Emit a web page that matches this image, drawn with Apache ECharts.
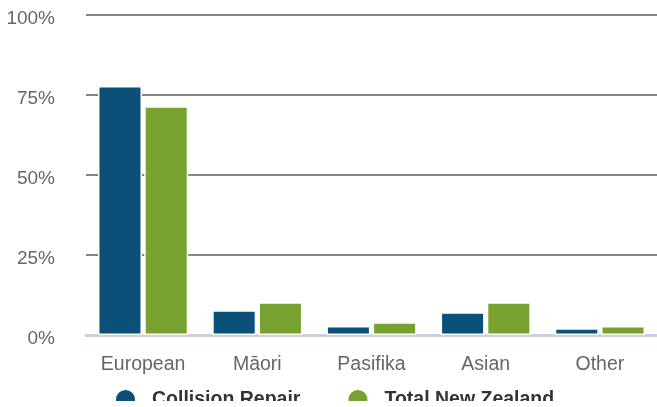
<!DOCTYPE html>
<html><head><meta charset="utf-8">
<script src="https://cdn.jsdelivr.net/npm/echarts@6/dist/echarts.min.js"></script>
<style>html,body{margin:0;padding:0;background:#fff}#wrap{width:657px;height:407px;overflow:hidden}#c{width:657px;height:401px}</style>
</head><body><div id="wrap"><div id="c"></div></div>
<script>
const categories = ['European', 'Māori', 'Pasifika', 'Asian', 'Other'];
const collisionRepair = [77.8, 7.7, 2.8, 7.1, 2.1];
const totalNZ = [71.5, 10.2, 4.0, 10.2, 2.8];
const seriesNames = ['Collision Repair', 'Total New Zealand'];
const yTicks = [0, 25, 50, 75, 100];

const chart = echarts.init(document.getElementById('c'), null, {renderer: 'canvas'});
const font = 'Liberation Sans, Arial, sans-serif';
chart.setOption({
  animation: false,
  grid: {left: 86, right: 0, top: 15, bottom: 66, containLabel: false},
  legend: {
    left: 114, top: 388, padding: 0,
    itemWidth: 21, itemHeight: 21, itemGap: 46, icon: 'circle',
    textStyle: {fontFamily: font, fontSize: 19.5, fontWeight: 'bold', color: '#333', padding: [1, 0, 0, 11]},
    data: seriesNames
  },
  xAxis: {
    type: 'category', data: categories,
    axisLine: {show: true, lineStyle: {color: '#c9cfdc', width: 3}},
    axisTick: {show: false},
    axisLabel: {fontFamily: font, fontSize: 19.5, color: '#666', margin: 20}
  },
  yAxis: {
    type: 'value', min: 0, max: 100, interval: 25,
    axisLine: {show: false}, axisTick: {show: false},
    splitLine: {lineStyle: {color: '#858585', width: 2}},
    axisLabel: {fontFamily: font, fontSize: 19, color: '#666', margin: 31,
      verticalAlign: 'top', lineHeight: 7,
      formatter: v => yTicks.includes(v) ? v + '%' : ''}
  },
  series: [
    {name: seriesNames[0], type: 'bar', data: collisionRepair, barGap: '5%', barCategoryGap: '21%',
     itemStyle: {color: '#0a5078', borderColor: '#ffffff', borderWidth: 1.5}},
    {name: seriesNames[1], type: 'bar', data: totalNZ,
     itemStyle: {color: '#78a22f', borderColor: '#ffffff', borderWidth: 1.5}}
  ]
});
</script></body></html>
